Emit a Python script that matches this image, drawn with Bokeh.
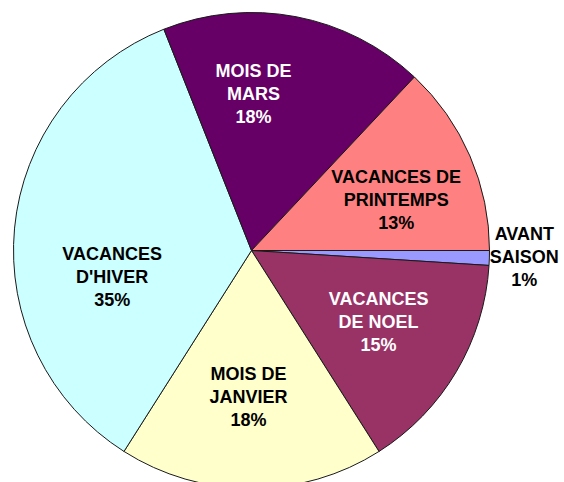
import math
from bokeh.plotting import figure
from bokeh.models import ColumnDataSource, Range1d
from bokeh.core.properties import value
from bokeh.embed import file_html
from bokeh.resources import INLINE

# ---- data ----
categories = ["AVANT\nSAISON", "VACANCES\nDE NOEL", "MOIS DE\nJANVIER",
              "VACANCES\nD'HIVER", "MOIS DE\nMARS", "VACANCES DE\nPRINTEMPS"]
percents = [1, 15, 18, 35, 18, 13]
colors = ["#9999FF", "#993366", "#FFFFCC", "#CCFFFF", "#660066", "#FF8080"]
label_colors = ["#000000", "#FFFFFF", "#000000", "#000000", "#FFFFFF", "#000000"]

# ---- layout (pixels) ----
W, H = 564, 482
CX, CY = 251, 232          # pie centre in plot pixels (y up)
R = 238                    # pie radius
LINE = 23                  # label line spacing
label_r = [275, 150, 150, 150, 150, 150]
label_nudge = [(-2, 2), (-2, 5), (-3, 4), (10, -41), (-26, 9), (7, -9)]

total = sum(percents)
starts, ends, mids = [], [], []
cum = 0.0
for v in percents:
    a0 = 2 * math.pi * cum / total
    cum += v
    a1 = 2 * math.pi * cum / total
    # slices run clockwise from 3 o'clock
    starts.append(-a1)
    ends.append(-a0)
    mids.append(-(a0 + a1) / 2)

rx, ry, rt, rc = [], [], [], []
for c, pct, r, m, n, tc in zip(categories, percents, label_r, mids, label_nudge, label_colors):
    x0 = CX + r * math.cos(m) + n[0]
    y0 = CY + r * math.sin(m) + n[1]
    lines = c.split("\n") + [f"{pct}%"]
    for i, t in enumerate(lines):
        rx.append(x0)
        ry.append(y0 - (i - 1) * LINE)
        rt.append(t)
        rc.append(tc)

src = ColumnDataSource(dict(start=starts, end=ends, color=colors))
lsrc = ColumnDataSource(dict(x=rx, y=ry, text=rt, tc=rc))

p = figure(width=W, height=H, output_backend="svg", toolbar_location=None,
           x_range=Range1d(0, W), y_range=Range1d(0, H), min_border=0)
p.axis.visible = False
p.grid.visible = False
p.outline_line_color = None
p.background_fill_color = "white"
p.border_fill_color = "white"

p.wedge(x=CX, y=CY, radius=R, radius_units="screen", start_angle="start",
        end_angle="end", direction="anticlock", fill_color="color",
        line_color="#1a1a1a", line_width=1, source=src)

p.text(x="x", y="y", text="text", source=lsrc, text_color="tc",
       text_font=value("Liberation Sans"), text_font_size="18px",
       text_font_style="bold",
       text_align="center", text_baseline="middle")

open("out.html", "w").write(file_html(p, INLINE))
